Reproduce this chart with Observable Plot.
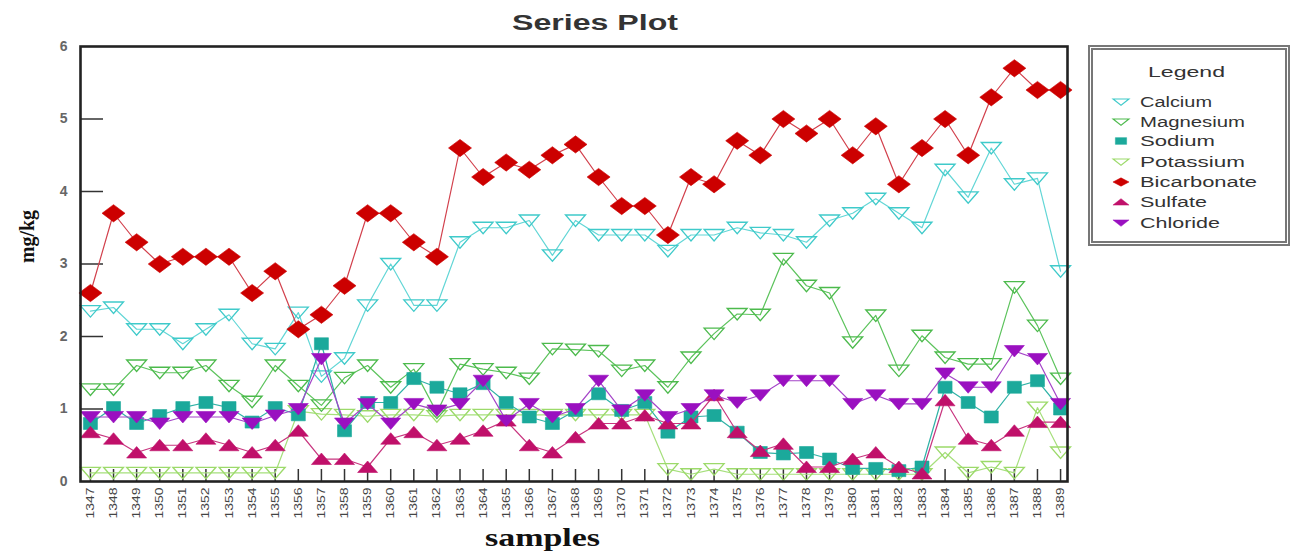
<!DOCTYPE html>
<html><head><meta charset="utf-8">
<script src="https://cdn.jsdelivr.net/npm/d3@7"></script>
<script src="https://cdn.jsdelivr.net/npm/@observablehq/plot@0.6"></script>
<style>
html,body{margin:0;padding:0;background:#fff;}
#wrap{position:relative;width:1293px;height:554px;overflow:hidden;font-family:"Liberation Sans",Arial,sans-serif;background:#fff;}
#chart{position:absolute;left:0;top:0;}
#overlay{position:absolute;left:0;top:0;pointer-events:none;}
#legend{position:absolute;left:1088px;top:45px;width:202px;height:201px;box-sizing:border-box;border:5px double #777;background:#fff;}
</style></head>
<body><div id="wrap"><div id="chart"></div><div id="legend"></div><svg id="overlay" width="1293" height="554"></svg></div>
<script>
// ---- data ----
const samples = [1347,1348,1349,1350,1351,1352,1353,1354,1355,1356,1357,1358,1359,1360,1361,1362,1363,1364,1365,1366,1367,1368,1369,1370,1371,1372,1373,1374,1375,1376,1377,1378,1379,1380,1381,1382,1383,1384,1385,1386,1387,1388,1389];
const calcium = [2.35,2.4,2.1,2.1,1.9,2.1,2.3,1.9,1.83,2.33, 1.45,1.7,2.43,3.0,2.43,2.43,3.3,3.5,3.5,3.6, 3.12,3.6,3.4,3.4,3.4,3.18,3.4,3.4,3.5,3.43, 3.4,3.3,3.6,3.7,3.9,3.7,3.5,4.3,3.92,4.6, 4.1,4.18,2.9];
const magnesium = [1.27,1.27,1.6,1.5,1.5,1.6,1.32,1.1,1.6,1.32, 1.05,1.43,1.6,1.3,1.55,0.95,1.62,1.55,1.5,1.42, 1.83,1.82,1.8,1.53,1.6,1.3,1.71,2.04,2.31,2.3, 3.07,2.7,2.6,1.92,2.29,1.53,2.01,1.71,1.62,1.62, 2.68,2.15,1.42];
const sodium = [0.8,1.02,0.8,0.91,1.02,1.09,1.02,0.82,1.02,0.92, 1.9,0.7,1.09,1.09,1.42,1.3,1.21,1.35,1.09,0.89, 0.8,0.98,1.21,0.98,1.09,0.68,0.89,0.91,0.68,0.4, 0.38,0.4,0.31,0.18,0.18,0.15,0.2,1.3,1.09,0.89, 1.3,1.39,1.0];
const potassium = [0.12,0.12,0.12,0.12,0.12,0.12,0.12,0.12,0.12,0.97, 0.93,0.92,0.9,0.92,0.92,0.9,0.92,0.92,0.92,0.92, 0.92,0.92,0.92,0.92,0.92,0.17,0.1,0.17,0.1,0.1, 0.1,0.1,0.1,0.1,0.1,0.1,0.1,0.4,0.12,0.2, 0.12,1.02,0.4];
const bicarbonate = [2.6,3.7,3.3,3.0,3.1,3.1,3.1,2.6,2.9,2.1, 2.3,2.7,3.7,3.7,3.3,3.1,4.6,4.2,4.4,4.3, 4.5,4.65,4.2,3.8,3.8,3.4,4.2,4.1,4.7,4.5, 5.0,4.8,5.0,4.5,4.9,4.1,4.6,5.0,4.5,5.3, 5.7,5.4,5.4];
const sulfate = [0.68,0.59,0.4,0.5,0.5,0.59,0.5,0.4,0.5,0.7, 0.31,0.31,0.2,0.59,0.68,0.5,0.59,0.7,0.84,0.5, 0.4,0.61,0.8,0.8,0.91,0.8,0.8,1.19,0.68,0.42, 0.52,0.2,0.2,0.31,0.4,0.2,0.11,1.12,0.59,0.5, 0.7,0.82,0.82];
const chloride = [0.89,0.89,0.89,0.8,0.89,0.89,0.89,0.8,0.91,1.0, 1.69,0.8,1.07,0.8,1.07,0.98,1.07,1.39,0.84,1.07, 0.89,1.0,1.39,0.98,1.19,0.89,1.0,1.19,1.09,1.19, 1.39,1.39,1.39,1.07,1.19,1.07,1.07,1.49,1.3,1.3, 1.8,1.69,1.07];
const seriesNames = ["Calcium","Magnesium","Sodium","Potassium","Bicarbonate","Sulfate","Chloride"];
const yTicks = [0,1,2,3,4,5,6];
const innerYTicks = [1,2,3,4,5];

// ---- symbols ----
function sym(fn){ return {draw(ctx, size){ const r = Math.sqrt(size/Math.PI); fn(ctx, r); }}; }
const triDown = sym((c,r)=>{ c.moveTo(-r,-0.55*r); c.lineTo(r,-0.55*r); c.lineTo(0,0.6*r); c.closePath(); });
const triUp = sym((c,r)=>{ c.moveTo(-r,0.55*r); c.lineTo(r,0.55*r); c.lineTo(0,-0.6*r); c.closePath(); });
const square = sym((c,r)=>{ c.rect(-0.7*r,-0.6*r,1.4*r,1.2*r); });
const diamond = sym((c,r)=>{ c.moveTo(-r,0); c.lineTo(0,-0.75*r); c.lineTo(r,0); c.lineTo(0,0.75*r); c.closePath(); });

const styles = {
  Calcium:     {values: calcium,     color:"#3fcaca", line:"#62d6d6", symbol: triDown, r:10, filled:false, len:72},
  Magnesium:   {values: magnesium,   color:"#4cba4c", line:"#5cc35c", symbol: triDown, r:10, filled:false, len:105},
  Sodium:      {values: sodium,      color:"#1ba99b", line:"#2fb2a6", symbol: square,  r:10, filled:true,  len:75},
  Potassium:   {values: potassium,   color:"#9cda6a", line:"#a6df7c", symbol: triDown, r:10, filled:false, len:105},
  Bicarbonate: {values: bicarbonate, color:"#cc0000", line:"#d2404c", symbol: diamond, r:11.5, filled:true,  len:117},
  Sulfate:     {values: sulfate,     color:"#c0106a", line:"#c8357f", symbol: triUp,   r:10, filled:true,  len:67},
  Chloride:    {values: chloride,    color:"#9a10c0", line:"#a444c8", symbol: triDown, r:10, filled:true,  len:80}
};
const drawOrder = ["Potassium","Magnesium","Calcium","Bicarbonate","Sodium","Sulfate","Chloride"];

const marks = [];
for (const name of drawOrder) {
  const s = styles[name];
  const data = samples.map((x,i)=>({sample:x, value:s.values[i], series:name}));
  marks.push(Plot.line(data, {x:"sample", y:"value", stroke:s.line, strokeWidth:1.2}));
  marks.push(Plot.dot(data, {x:"sample", y:"value", symbol:s.symbol, r:s.r,
    fill: s.filled ? s.color : "none", stroke: s.color, strokeWidth: s.filled ? 0.6 : 1.3}));
}

const chart = Plot.plot({
  width: 1085, height: 554,
  marginLeft: 80, marginRight: 18, marginTop: 46, marginBottom: 73,
  x: {type:"linear", domain:[1346.57, 1389.3]},
  y: {domain:[0,6]},
  style: {fontFamily:"'Liberation Sans', Arial, sans-serif", background:"transparent"},
  marks: [
    Plot.tickY(innerYTicks, {y: d=>d, insetRight: 964, stroke:"#333", strokeWidth:1.5}),
    Plot.tickX(samples, {x: d=>d, insetTop: 423, stroke:"#333", strokeWidth:1.5}),
    ...marks,
    Plot.frame({stroke:"#222", strokeWidth:2.6}),
    Plot.axisY(yTicks, {tickSize:0, tickPadding:13, fontSize:14, fontWeight:"bold", fill:"#666", label:null, tickFormat: d=>String(d)}),
    Plot.axisX(samples, {tickSize:0, tickRotate:-90, tickPadding:6, fontSize:11, fill:"#444", label:null, tickFormat: d=>String(d)})
  ]
});
document.getElementById("chart").appendChild(chart);
d3.select(chart).selectAll('[aria-label="x-axis tick label"] text')
  .attr("textLength", 31).attr("lengthAdjust","spacingAndGlyphs");

// ---- overlay texts ----
const ov = d3.select("#overlay");
ov.append("text").attr("x",512).attr("y",30).attr("textLength",166).attr("lengthAdjust","spacingAndGlyphs")
  .attr("font-family","'Liberation Sans', Arial, sans-serif").attr("font-weight","bold").attr("font-size",22)
  .attr("fill","#333").text("Series Plot");
ov.append("text").attr("x",485).attr("y",546).attr("textLength",115).attr("lengthAdjust","spacingAndGlyphs")
  .attr("font-family","'Liberation Serif', 'Times New Roman', serif").attr("font-weight","bold").attr("font-size",25)
  .attr("fill","#111").text("samples");
ov.append("text").attr("transform","translate(34,263) rotate(-90)").attr("textLength",53).attr("lengthAdjust","spacingAndGlyphs")
  .attr("font-family","'Liberation Serif', 'Times New Roman', serif").attr("font-weight","bold").attr("font-size",20)
  .attr("fill","#111").text("mg/kg");

// ---- legend ----
const leg = d3.select("#legend").append("svg").attr("width",192).attr("height",191).style("display","block");
leg.append("text").attr("x",55).attr("y",27).attr("textLength",77).attr("lengthAdjust","spacingAndGlyphs")
  .attr("font-family","'Liberation Sans', Arial, sans-serif").attr("font-size",14).attr("fill","#333").text("Legend");
const rowY = [52,72,91,112,132,152,173];
seriesNames.forEach((name,i)=>{
  const s = styles[name];
  const p = d3.path();
  s.symbol.draw(p, 7*7*Math.PI);
  leg.append("path").attr("d", p.toString()).attr("transform",`translate(28,${rowY[i]}) scale(1.15,0.8)`)
    .attr("fill", s.filled ? s.color : "none").attr("stroke", s.color).attr("stroke-width", s.filled ? 0.5 : 1.2);
  leg.append("text").attr("x",47).attr("y",rowY[i]+5).attr("textLength",s.len).attr("lengthAdjust","spacingAndGlyphs")
    .attr("font-family","'Liberation Sans', Arial, sans-serif").attr("font-size",14).attr("fill","#333").text(name);
});
</script></body></html>
